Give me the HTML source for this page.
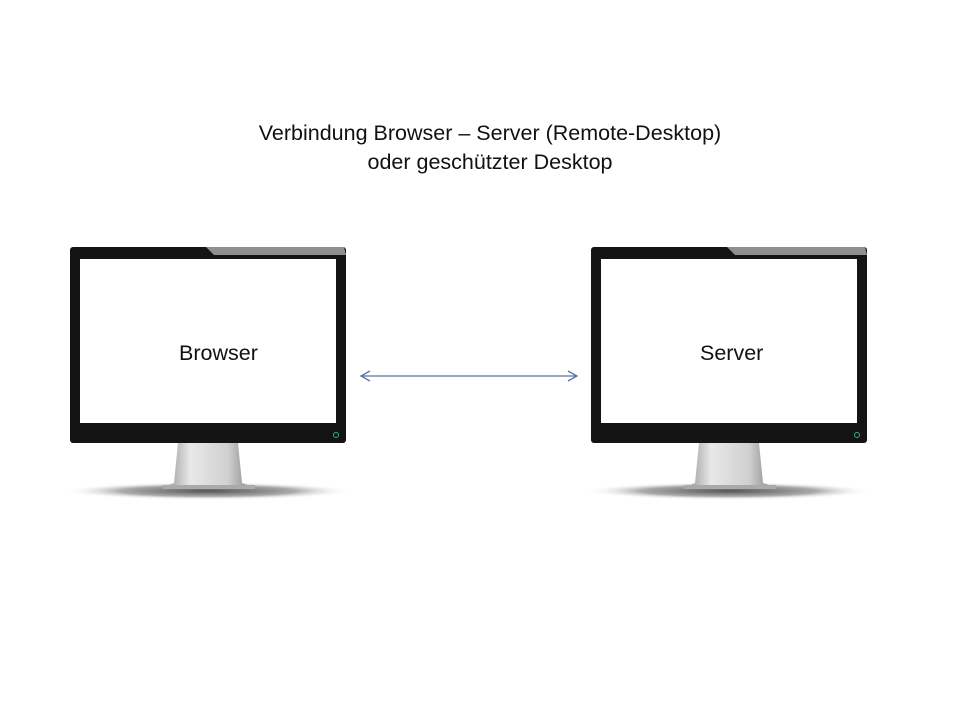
<!DOCTYPE html>
<html><head><style>
body{margin:0;width:960px;height:720px;background:#fff;position:relative;overflow:hidden;font-family:"Liberation Sans",Calibri,sans-serif}
.t{position:absolute;left:0;width:980px;text-align:center;font-size:21.5px;color:#111}
.lbl{position:absolute;font-size:21.5px;color:#111}
</style></head><body>
<div class="t" style="top:121px">Verbindung Browser – Server (Remote-Desktop)</div>
<div class="t" style="top:150px">oder geschützter Desktop</div>
<svg width="960" height="720" style="position:absolute;left:0;top:0">
<defs>
<linearGradient id="st" x1="0" x2="1" y1="0" y2="0">
<stop offset="0" stop-color="#8a8a8a"/><stop offset="0.3" stop-color="#e8e8e8"/><stop offset="0.7" stop-color="#d0d0d0"/><stop offset="1" stop-color="#7a7a7a"/></linearGradient>
<radialGradient id="sh"><stop offset="0" stop-color="#555"/><stop offset="0.6" stop-color="#aaa"/><stop offset="1" stop-color="#fff" stop-opacity="0"/></radialGradient>
<g id="m">
<ellipse cx="138" cy="244" rx="145" ry="9" fill="url(#sh)"/>
<path d="M108 196 L168 196 L172 236 L186 241 L92 241 L104 236 Z" fill="url(#st)"/>
<rect x="93" y="238" width="92" height="4" fill="#aaa"/>
<rect x="0" y="0" width="276" height="196" rx="3" fill="#141414"/>
<path d="M136 0 L274 0 L276 8 L144 8 Z" fill="#8f8f8f"/>
<rect x="10" y="12" width="256" height="164" fill="#fff"/>
<circle cx="266" cy="188" r="2.5" fill="none" stroke="#3a9" stroke-width="1"/>
</g>
</defs>
<use href="#m" x="70" y="247"/>
<use href="#m" x="591" y="247"/>
<line x1="361" y1="376" x2="577" y2="376" stroke="#5577a8" stroke-width="1.3"/>
<path d="M370 371 L361 376 L370 381" fill="none" stroke="#5577a8" stroke-width="1.3"/>
<path d="M568 371 L577 376 L568 381" fill="none" stroke="#5577a8" stroke-width="1.3"/>
</svg>
<div class="lbl" style="left:179px;top:341px">Browser</div>
<div class="lbl" style="left:700px;top:341px">Server</div>
</body></html>
